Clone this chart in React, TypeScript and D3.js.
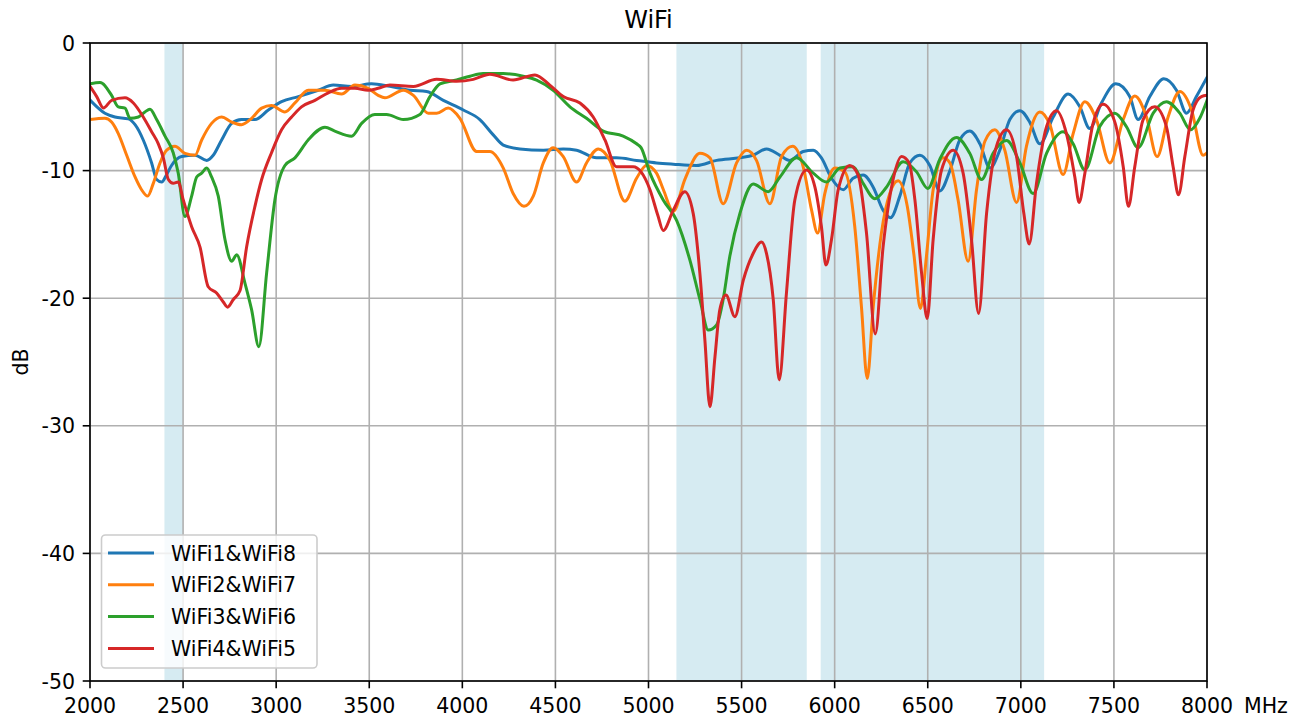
import { useMemo } from "react";
import * as d3 from "d3";

type Pt = [number, number];

// [frequency MHz, dB]
const wifi1_8: Pt[] = [
  [2000, -4.47], [2080, -5.5], [2134, -5.8], [2206, -5.95], [2242, -6.4], [2286, -7.6], [2331, -9.4],
  [2358, -10.7], [2385, -10.9], [2412, -10.3], [2438, -9.6], [2492, -8.9], [2564, -8.8], [2627, -9.2],
  [2662, -8.8], [2707, -7.6], [2761, -6.3], [2814, -6.0], [2886, -6.0], [2958, -5.25], [3029, -4.6],
  [3119, -4.2], [3226, -3.7], [3307, -3.3], [3405, -3.4], [3512, -3.2], [3611, -3.4], [3719, -3.7],
  [3808, -3.8], [3898, -4.5], [4005, -5.25], [4094, -6.0], [4166, -7.2], [4220, -8.0], [4309, -8.3],
  [4435, -8.4], [4542, -8.3], [4614, -8.4], [4721, -9.0], [4828, -9.0], [4936, -9.2], [5043, -9.4],
  [5133, -9.5], [5258, -9.6], [5366, -9.2], [5491, -9.0], [5562, -8.8], [5634, -8.3], [5706, -8.8],
  [5759, -9.2], [5831, -8.5], [5885, -8.4], [5929, -9.0], [5983, -10.6], [6046, -11.5], [6099, -10.6],
  [6153, -10.35], [6207, -11.3], [6260, -13.1], [6300, -13.7], [6350, -12.0], [6404, -9.4], [6458, -8.8],
  [6511, -9.6], [6565, -11.6], [6619, -10.0], [6672, -7.6], [6726, -6.9], [6780, -7.9], [6834, -9.8],
  [6887, -8.4], [6941, -6.0], [6995, -5.3], [7048, -6.2], [7102, -7.9], [7174, -5.8], [7254, -4.0],
  [7317, -5.0], [7370, -6.7], [7433, -4.7], [7510, -3.2], [7585, -4.2], [7630, -6.0], [7693, -4.2],
  [7768, -2.8], [7836, -3.7], [7890, -5.5], [7943, -4.2], [8000, -2.7],
];

const wifi2_7: Pt[] = [
  [2000, -6.0], [2080, -5.9], [2116, -6.2], [2152, -7.1], [2197, -8.8], [2242, -10.5], [2277, -11.5],
  [2310, -12.0], [2340, -11.0], [2376, -9.4], [2412, -8.4], [2456, -8.1], [2510, -8.65], [2564, -8.8],
  [2600, -7.6], [2653, -6.3], [2707, -5.8], [2761, -6.2], [2814, -6.4], [2868, -5.9], [2922, -5.1],
  [2975, -4.9], [3047, -5.4], [3101, -4.7], [3172, -3.7], [3262, -3.7], [3351, -4.0], [3423, -3.3],
  [3494, -3.55], [3548, -4.1], [3584, -4.3], [3683, -3.7], [3737, -4.1], [3817, -5.5], [3862, -5.5],
  [3924, -5.1], [3987, -5.9], [4077, -8.5], [4148, -8.5], [4220, -9.8], [4273, -11.8], [4331, -12.8],
  [4381, -12.0], [4435, -9.4], [4488, -8.2], [4542, -8.9], [4614, -10.9], [4667, -9.4], [4730, -8.3],
  [4793, -9.2], [4873, -12.4], [4936, -10.6], [4989, -9.6], [5043, -10.2], [5080, -11.5], [5133, -13.2],
  [5195, -10.7], [5276, -8.65], [5330, -9.0], [5401, -12.6], [5473, -9.4], [5527, -8.4], [5580, -9.2],
  [5652, -12.6], [5715, -8.9], [5774, -8.1], [5831, -9.7], [5876, -13.1], [5908, -14.9], [5947, -11.8],
  [6001, -9.8], [6055, -10.1], [6108, -14.4], [6144, -20.7], [6175, -26.3], [6207, -20.7], [6251, -14.9],
  [6296, -11.8], [6341, -10.8], [6390, -12.8], [6425, -16.5], [6461, -20.8], [6493, -16.7], [6529, -11.5],
  [6583, -9.0], [6619, -9.4], [6663, -12.3], [6717, -17.1], [6762, -11.5], [6807, -7.7], [6860, -6.8],
  [6914, -8.4], [6977, -12.5], [7030, -8.1], [7102, -5.4], [7156, -6.4], [7227, -10.3], [7281, -7.1],
  [7344, -4.6], [7406, -6.0], [7478, -9.4], [7550, -6.0], [7612, -4.15], [7675, -5.8], [7732, -8.9],
  [7791, -5.8], [7854, -3.8], [7917, -5.25], [7979, -8.8], [8000, -8.6],
];

const wifi3_6: Pt[] = [
  [2000, -3.2], [2054, -3.1], [2116, -4.1], [2152, -5.0], [2188, -5.1], [2215, -5.9], [2260, -5.8],
  [2295, -5.4], [2322, -5.2], [2358, -6.0], [2403, -7.3], [2447, -8.6], [2474, -10.2], [2510, -13.6],
  [2546, -12.0], [2573, -10.5], [2600, -10.2], [2627, -9.8], [2653, -10.5], [2689, -12.0], [2725, -15.4],
  [2761, -17.1], [2788, -16.6], [2832, -18.8], [2868, -20.9], [2907, -23.8], [2949, -18.0], [2993, -12.3],
  [3047, -9.6], [3101, -9.0], [3172, -7.6], [3262, -6.6], [3315, -6.9], [3405, -7.3], [3459, -6.3],
  [3530, -5.6], [3593, -5.6], [3683, -6.0], [3772, -5.6], [3826, -4.2], [3880, -3.2], [3969, -2.9],
  [4041, -2.6], [4112, -2.4], [4220, -2.4], [4327, -2.6], [4399, -2.9], [4488, -3.7], [4578, -5.0],
  [4667, -5.9], [4757, -6.9], [4864, -7.3], [4936, -7.9], [4960, -8.2], [5008, -10.2], [5079, -12.3],
  [5151, -13.9], [5222, -17.0], [5276, -20.1], [5321, -22.5], [5366, -22.1], [5401, -20.1], [5437, -16.7],
  [5491, -13.35], [5562, -11.05], [5643, -11.65], [5706, -10.5], [5795, -9.0], [5885, -10.2], [5956, -10.9],
  [6028, -9.8], [6099, -9.7], [6153, -11.0], [6216, -12.2], [6278, -11.3], [6368, -9.3], [6440, -10.1],
  [6500, -11.4], [6565, -9.1], [6654, -7.4], [6726, -8.65], [6789, -10.7], [6851, -8.65], [6923, -7.65],
  [6995, -9.4], [7066, -11.8], [7138, -8.65], [7227, -6.95], [7281, -7.9], [7344, -9.95], [7424, -6.55],
  [7505, -5.5], [7567, -6.55], [7630, -8.2], [7711, -5.5], [7782, -4.6], [7854, -5.5], [7911, -6.8],
  [7961, -5.9], [8000, -4.5],
];

const wifi4_5: Pt[] = [
  [2000, -3.4], [2036, -4.2], [2072, -5.1], [2116, -4.5], [2188, -4.3], [2233, -4.7], [2286, -5.8],
  [2331, -6.95], [2367, -7.9], [2394, -9.0], [2421, -10.7], [2447, -11.0], [2474, -10.9], [2501, -12.3],
  [2546, -14.4], [2591, -16.0], [2635, -19.1], [2680, -19.6], [2716, -20.3], [2739, -20.7], [2770, -20.1],
  [2806, -19.4], [2841, -16.0], [2886, -12.8], [2922, -10.7], [2975, -8.6], [3029, -6.8], [3083, -5.8],
  [3136, -5.0], [3208, -4.5], [3280, -3.9], [3351, -3.55], [3423, -3.55], [3494, -3.7], [3548, -3.55],
  [3611, -3.3], [3737, -3.4], [3862, -2.85], [3969, -3.0], [4059, -2.85], [4148, -2.45], [4273, -2.9],
  [4390, -2.5], [4470, -3.3], [4542, -4.2], [4632, -4.7], [4703, -5.8], [4766, -7.6], [4828, -9.7],
  [4918, -9.7], [4960, -10.1], [5008, -11.5], [5050, -13.5], [5079, -14.7], [5133, -13.1], [5195, -11.65],
  [5240, -13.35], [5276, -18.05], [5303, -23.3], [5330, -28.5], [5357, -24.6], [5383, -20.9], [5416, -19.75],
  [5464, -21.45], [5509, -18.6], [5562, -16.5], [5607, -15.6], [5634, -16.5], [5670, -20.1], [5702, -26.4],
  [5741, -19.6], [5786, -12.3], [5849, -9.95], [5894, -11.3], [5929, -14.4], [5953, -17.4], [5983, -15.4],
  [6019, -11.5], [6081, -9.6], [6126, -10.35], [6171, -14.9], [6218, -22.8], [6260, -16.0], [6314, -10.7],
  [6359, -8.9], [6400, -9.4], [6431, -12.3], [6467, -18.05], [6497, -21.6], [6529, -15.4], [6574, -9.95],
  [6637, -8.4], [6690, -10.2], [6735, -15.4], [6773, -21.2], [6816, -13.35], [6869, -8.1], [6923, -6.8],
  [6977, -8.9], [7016, -13.35], [7045, -15.75], [7084, -11.0], [7138, -6.55], [7192, -5.3], [7245, -7.1],
  [7290, -10.5], [7313, -12.5], [7344, -10.2], [7388, -6.3], [7442, -4.8], [7505, -6.2], [7550, -9.7],
  [7578, -12.8], [7612, -9.7], [7657, -6.0], [7719, -5.0], [7782, -6.55], [7818, -9.7], [7847, -11.9],
  [7881, -8.9], [7925, -5.25], [7970, -4.2], [8000, -4.1],
];

const seriesNames = ["WiFi1&WiFi8", "WiFi2&WiFi7", "WiFi3&WiFi6", "WiFi4&WiFi5"];
const seriesData = [wifi1_8, wifi2_7, wifi3_6, wifi4_5];
const colors = ["#1f77b4", "#ff7f0e", "#2ca02c", "#d62728"];

// shaded WiFi bands [start, end] MHz
const bands: Pt[] = [
  [2400, 2500],
  [5150, 5850],
  [5925, 7125],
];

const WIDTH = 1305;
const HEIGHT = 720;
const M = { left: 90, right: 98, top: 43, bottom: 39 };
const FONT = "DejaVu Sans, sans-serif";
const FS = 20.5;

export default function App() {
  const x = useMemo(
    () => d3.scaleLinear().domain([2000, 8000]).range([M.left, WIDTH - M.right]),
    []
  );
  const y = useMemo(
    () => d3.scaleLinear().domain([-50, 0]).range([HEIGHT - M.bottom, M.top]),
    []
  );

  const line = d3
    .line<Pt>()
    .x((d) => x(d[0]))
    .y((d) => y(d[1]))
    .curve(d3.curveMonotoneX);

  const xTicks = x.ticks(12);
  const yTicks = y.ticks(5);
  const [x0, x1] = x.range();
  const [y0, y1] = y.range();

  return (
    <svg
      width={WIDTH}
      height={HEIGHT}
      style={{ position: "absolute", left: 0, top: 0, background: "#fff" }}
      fontFamily={FONT}
    >
      <text x={(x0 + x1) / 2} y={28} textAnchor="middle" fontSize={24}>
        WiFi
      </text>

      <defs>
        <clipPath id="plot">
          <rect x={x0} y={y1} width={x1 - x0} height={y0 - y1} />
        </clipPath>
      </defs>

      {bands.map((b, i) => (
        <rect
          key={i}
          x={x(b[0])}
          y={y1}
          width={x(b[1]) - x(b[0])}
          height={y0 - y1}
          fill="#add8e6"
          fillOpacity={0.5}
        />
      ))}

      {xTicks.map((t) => (
        <line key={"gx" + t} x1={x(t)} x2={x(t)} y1={y1} y2={y0} stroke="#b0b0b0" strokeWidth={1.6} />
      ))}
      {yTicks.map((t) => (
        <line key={"gy" + t} x1={x0} x2={x1} y1={y(t)} y2={y(t)} stroke="#b0b0b0" strokeWidth={1.6} />
      ))}

      <g clipPath="url(#plot)">
        {seriesData.map((d, i) => (
          <path
            key={i}
            d={line(d) || undefined}
            fill="none"
            stroke={colors[i]}
            strokeWidth={3}
            strokeLinejoin="round"
            strokeLinecap="square"
          />
        ))}
      </g>

      <rect x={x0} y={y1} width={x1 - x0} height={y0 - y1} fill="none" stroke="#000" strokeWidth={1.6} />

      {xTicks.map((t) => (
        <g key={"tx" + t}>
          <line x1={x(t)} x2={x(t)} y1={y0} y2={y0 + 7.3} stroke="#000" strokeWidth={1.6} />
          <text x={x(t)} y={y0 + 32} textAnchor="middle" fontSize={FS} fill="#000">
            {t}
          </text>
        </g>
      ))}
      <text x={x1 + 37} y={y0 + 32} fontSize={FS}>
        MHz
      </text>

      {yTicks.map((t) => (
        <g key={"ty" + t}>
          <line x1={x0 - 7.3} x2={x0} y1={y(t)} y2={y(t)} stroke="#000" strokeWidth={1.6} />
          <text x={x0 - 15} y={y(t) + 7.5} textAnchor="end" fontSize={FS} fill="#000">
            {t}
          </text>
        </g>
      ))}

      <text transform={`translate(28, ${(y0 + y1) / 2}) rotate(-90)`} textAnchor="middle" fontSize={FS}>
        dB
      </text>

      <g>
        <rect
          x={101.5}
          y={535}
          width={215.5}
          height={133}
          rx={4}
          fill="#fff"
          fillOpacity={0.8}
          stroke="#cccccc"
          strokeWidth={1.6}
        />
        {seriesNames.map((n, i) => {
          const ly = 553 + i * 31.8;
          return (
            <g key={n}>
              <line x1={108} x2={154} y1={ly} y2={ly} stroke={colors[i]} strokeWidth={3} />
              <text x={171} y={ly + 7.5} fontSize={FS}>
                {n}
              </text>
            </g>
          );
        })}
      </g>
    </svg>
  );
}
